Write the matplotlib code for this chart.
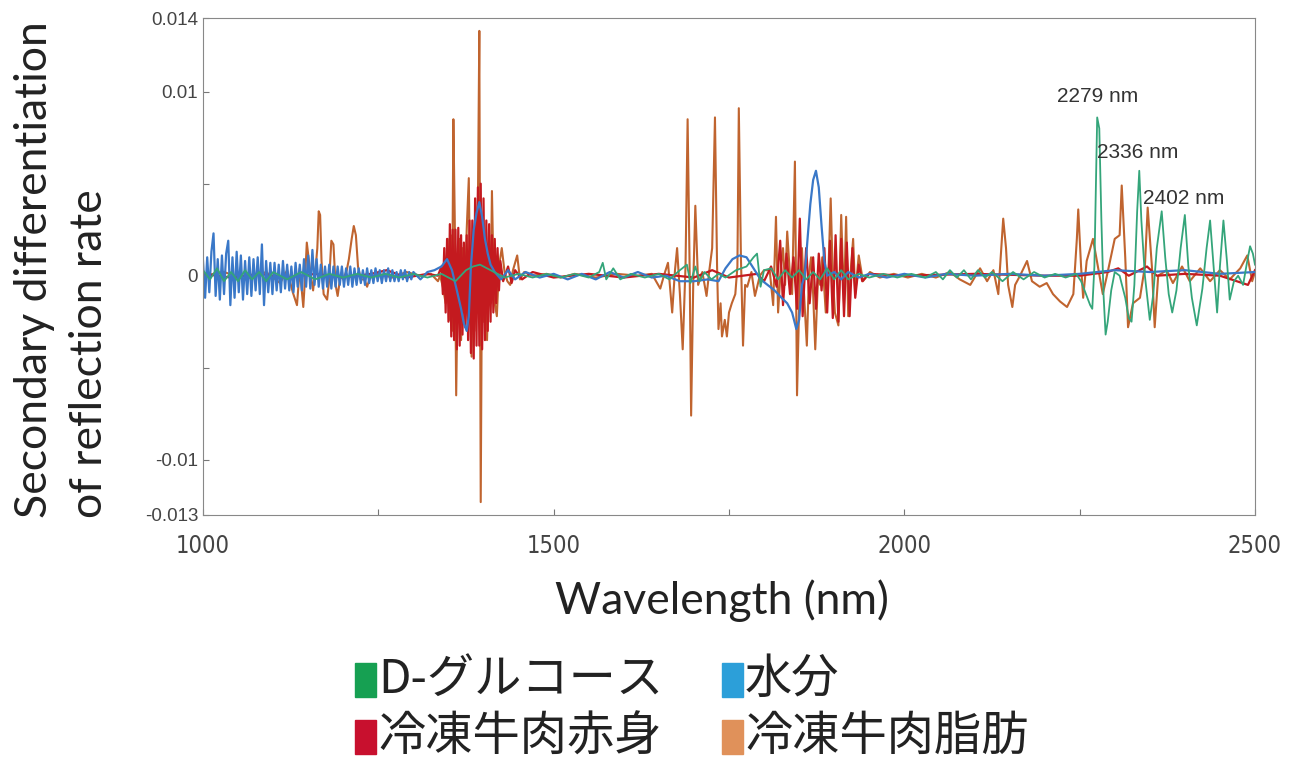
import numpy as np
import matplotlib.pyplot as plt
from matplotlib.patches import Rectangle

# second derivative spectra, values in units of 1e-3
fat_wl = [1000, 1030, 1060, 1090, 1110, 1120, 1128, 1134, 1138, 1143, 1146, 1148, 1152, 1157, 1161, 1163,
          1165, 1167, 1169, 1172, 1177, 1180, 1183, 1186, 1189, 1192, 1196, 1200, 1205, 1208, 1212, 1215,
          1218, 1221, 1225, 1230, 1234, 1238, 1250, 1270, 1290, 1310, 1325, 1335,
          1338, 1342, 1346, 1349, 1351, 1353, 1355, 1357, 1359, 1361, 1363, 1366, 1368, 1370, 1373, 1376,
          1379, 1381, 1383, 1385, 1387, 1389, 1392, 1394, 1396, 1398, 1400, 1402, 1405, 1408, 1410, 1412,
          1414, 1416, 1419, 1422, 1426, 1430, 1434, 1438, 1442, 1448, 1452, 1458,
          1470, 1490, 1510, 1530, 1560, 1590, 1620, 1640,
          1652, 1658, 1663, 1669, 1673, 1676, 1680, 1684, 1688, 1691, 1694, 1696, 1699, 1702, 1706, 1712,
          1718, 1722, 1726, 1730, 1733, 1735, 1738, 1740, 1744, 1747, 1750, 1754, 1759, 1762, 1764, 1767,
          1770, 1773, 1776, 1782, 1787, 1794, 1800, 1808, 1813, 1817, 1820, 1824, 1827, 1830, 1833, 1837,
          1840, 1844, 1847, 1851, 1854, 1857, 1861, 1864, 1867, 1870, 1873, 1877, 1880, 1883, 1888, 1892,
          1895, 1898, 1901, 1906, 1910, 1914, 1917, 1920, 1924, 1927, 1930, 1935, 1941, 1951, 1965, 1985,
          2005, 2025, 2045,
          2065, 2079, 2094, 2108, 2118, 2127, 2134, 2141, 2145, 2148, 2154, 2158, 2165, 2175, 2182, 2193,
          2203, 2212, 2222, 2232, 2241, 2246, 2248, 2252, 2255, 2260, 2269, 2276, 2283, 2290, 2300, 2307,
          2310, 2315, 2319, 2326, 2336, 2343, 2347, 2353, 2357, 2362, 2374, 2383, 2396, 2407, 2422, 2436,
          2450, 2464, 2479, 2489, 2496, 2500]
fat_val = [0.0, 0.2, -0.2, 0.2, -0.4, 0.3, -0.9, -1.6, 0.4, -1.7, 0.2, 1.8, 0.5, -0.8, 0.6, 1.5,
           3.5, 3.3, 0.8, -1.0, -1.3, -0.2, 1.9, 1.7, -0.5, -1.1, 0.0, -0.2, 0.3, 0.9, 2.0, 2.7,
           2.2, 0.5, -0.2, -0.2, -0.6, -0.1, 0.1, -0.1, 0.2, 0.0, 0.1, -0.3,
           0.0, -0.6, -1.5, 2.0, -2.4, 2.2, -3.0, 8.5, 3.0, -6.5, -1.0, 2.0, -3.5, 1.5, -2.0, 2.5,
           5.3, -1.0, -4.4, 1.5, -3.0, 2.5, 4.0, 13.3, -12.3, 2.0, -2.5, 1.5, -3.5, 1.0, -1.5, 4.6,
           0.5, -1.5, -2.2, 0.5, 1.5, 0.2, -0.3, -0.5, 0.3, 1.1, -0.2, 0.2,
           0.0, 0.1, -0.1, 0.1, -0.1, 0.1, 0.0, 0.1,
           -0.7, 0.1, 0.7, -2.0, 0.3, 1.5, -1.0, -4.0, 0.5, 8.5, 0.0, -7.6, -0.5, 3.8, -0.5, 0.2,
           -1.1, 0.3, 1.5, 8.6, 0.5, -2.9, -1.5, -3.3, -2.4, -3.3, -2.0, -1.5, -1.0, 0.5, 9.1, 1.0,
           -3.8, -0.5, -0.6, 0.2, -1.1, 0.0, 0.3, 0.3, -1.6, 3.2, -2.0, 0.5, 1.5, -0.5, 2.4, 0.0,
           -1.0, 6.2, -6.5, 0.0, 1.5, -1.0, -3.8, 0.0, 1.0, -1.0, -4.0, 0.0, -0.5, 1.0, -2.0, 0.5,
           4.2, 0.0, -2.0, -2.7, 3.3, -1.5, 3.2, -2.2, 0.5, 2.0, -1.0, 1.1, -0.3, 0.2, -0.1, 0.1,
           -0.1, 0.1, -0.1,
           0.2, -0.2, -0.5, 0.4, -0.3, 0.3, -1.0, 3.1, 1.5, -0.5, -1.7, -0.5, 0.0, 0.8, -0.3, -0.6,
           -0.4, -1.0, -1.4, -1.7, -1.0, 2.0, 3.6, 0.5, -1.2, 0.8, 2.0, 0.5, -1.0, 0.2, 2.0, 2.2,
           4.9, 1.0, -2.8, -1.5, -1.2, 0.5, 3.7, 0.5, -2.8, 0.0, 0.3, -0.4, 0.5, -0.3, 0.4, -0.3,
           0.3, -0.2, 0.4, 1.1, -0.3, 0.2]

lean_wl = [1000, 1040, 1080, 1120, 1160, 1200, 1240, 1262, 1290, 1320, 1335,
           1340, 1342, 1344, 1346, 1348, 1350, 1352, 1354, 1356, 1358, 1360, 1362, 1364, 1366, 1368, 1370,
           1372, 1374, 1376, 1378, 1380, 1382, 1384, 1386, 1388, 1390, 1392, 1394, 1396, 1398, 1400, 1402,
           1404, 1406, 1408, 1410, 1412, 1414, 1416, 1418, 1420, 1422, 1424, 1428, 1435, 1440,
           1445, 1455, 1470, 1500, 1550, 1600, 1650, 1700, 1726, 1750, 1790,
           1800, 1810, 1818, 1823, 1827, 1832, 1837, 1842, 1847, 1851, 1855, 1860, 1865, 1870, 1874, 1878,
           1882, 1886, 1890, 1894, 1898, 1902, 1906, 1910, 1914, 1918, 1922, 1926, 1930, 1935, 1940, 1950,
           2000, 2100, 2200, 2250, 2290, 2305, 2320, 2346, 2360, 2400, 2450, 2490, 2500]
lean_val = [0.1, -0.1, 0.1, -0.1, 0.1, -0.1, 0.1, 0.3, -0.1, 0.1, 0.0,
            0.5, -1.0, 1.5, -2.0, 2.0, -2.5, 2.8, -3.3, 2.5, -3.5, 2.5, -4.0, 2.6, -3.8, 2.2, -3.2,
            1.8, -2.8, 2.2, -3.5, 3.0, -4.2, 3.0, -4.5, 4.2, -3.8, 4.8, -3.8, 5.0, -4.0, 4.2, -3.5,
            3.0, -3.0, 2.8, -2.5, 2.2, -2.0, 2.0, -1.5, 1.5, -0.8, 0.8, -0.3, 0.5, -0.4,
            0.3, -0.2, 0.2, -0.1, 0.1, -0.1, 0.1, -0.1, 0.3, -0.1, 0.1,
            -0.3, 0.5, -0.6, 1.9, -1.6, 1.2, -1.0, 1.0, -1.8, 3.1, -2.2, 1.5, -1.5, 1.0, -1.8, 1.2,
            -0.8, 1.5, -2.0, 1.9, -2.3, 2.2, -2.5, 2.0, -2.2, 1.8, -2.2, 1.5, -1.2, 0.6, -0.3, 0.1,
            0.0, 0.1, 0.0, 0.0, 0.2, 0.4, 0.0, 0.5, 0.0, 0.1, 0.0, -0.5, 0.3]

water_wl = [1000, 1003, 1006, 1009, 1012, 1015, 1018, 1021, 1024, 1027, 1030, 1033, 1036, 1039, 1042,
            1045, 1048, 1051, 1054, 1057, 1060, 1063, 1066, 1069, 1072, 1075, 1078, 1081, 1084, 1087,
            1090, 1093, 1096, 1099, 1102, 1105, 1108, 1111, 1114, 1117, 1120, 1123, 1126, 1129, 1132,
            1135, 1138, 1141, 1144, 1147, 1150, 1153, 1156, 1159, 1162, 1165, 1168, 1171, 1174, 1177,
            1180, 1183, 1186, 1189, 1192, 1195, 1198, 1201, 1204, 1207, 1210, 1213, 1216, 1219, 1222,
            1225, 1228, 1231, 1234, 1237, 1240, 1243, 1246, 1249, 1252, 1255, 1258, 1261, 1264, 1267,
            1270, 1273, 1276, 1279, 1282, 1285, 1288, 1291, 1294, 1297, 1300, 1310, 1320, 1330,
            1340, 1348, 1355, 1362, 1368, 1372, 1376, 1379, 1382, 1386, 1390, 1394, 1398, 1402, 1406,
            1410, 1416, 1425, 1435, 1445, 1460, 1480, 1500, 1520, 1540, 1560, 1580, 1600, 1620, 1640,
            1660, 1680, 1700, 1720, 1735, 1745, 1755, 1765, 1775, 1785, 1795, 1805, 1815, 1825, 1833,
            1840, 1846, 1850, 1854, 1858, 1862, 1866, 1870, 1874, 1878, 1882, 1886, 1890, 1900, 1910,
            1920, 1935, 1950, 1975, 2000, 2030, 2060, 2100, 2150, 2200, 2250, 2300, 2350, 2400, 2450, 2500]
water_val = [0.8, -1.2, 1.0, -0.9, 1.3, 2.3, -1.1, 0.9, -1.3, 1.1, -1.0, 1.2, 1.9, -1.6, 1.0,
             -1.2, 1.3, -0.9, 1.1, -1.3, 0.8, -1.0, 1.0, -1.1, 0.9, -0.8, 1.0, -1.0, 1.7, -1.6,
             0.8, -0.9, 0.7, -1.0, 0.7, -0.8, 0.6, -0.9, 0.8, -0.7, 0.6, -0.8, 0.5, -0.9, 0.7,
             -0.6, 0.6, -0.8, 0.9, -0.6, 1.1, -0.7, 1.4, -0.5, 0.9, -0.6, 0.6, -0.7, 0.5, -0.6,
             0.6, -0.7, 0.5, -0.6, 0.5, -0.5, 0.5, -0.6, 0.4, -0.5, 0.5, -0.6, 0.4, -0.5, 0.4,
             -0.4, 0.3, -0.5, 0.4, -0.4, 0.3, -0.4, 0.4, -0.3, 0.3, -0.4, 0.3, -0.3, 0.4, -0.3,
             0.3, -0.3, 0.2, -0.3, 0.3, -0.2, 0.3, -0.3, 0.2, -0.2, 0.2, -0.2, 0.2, 0.3,
             0.5, 0.9, 0.3, -0.8, -1.8, -2.6, -3.0, -2.2, 0.5, 2.5, 3.4, 4.0, 3.2, 2.0, 1.2,
             0.6, 0.2, -0.2, 0.3, -0.2, 0.2, -0.1, 0.1, -0.2, 0.1, -0.2, 0.2, -0.1, 0.2, -0.1,
             0.0, -0.3, -0.3, -0.2, -0.3, 0.4, 0.9, 1.1, 1.0, 0.4, -0.2, -0.5, -0.8, -1.2, -1.5,
             -2.0, -2.9, -2.4, -0.5, 0.0, 2.0, 3.9, 5.2, 5.7, 4.8, 2.7, 0.8, 0.0, 0.2, -0.2,
             0.2, -0.1, 0.1, -0.1, 0.1, -0.1, 0.1, 0.0, 0.1, 0.0, 0.1, 0.3, 0.2, 0.3, 0.1, 0.2]

glucose_wl = [1000, 1010, 1020, 1030, 1040, 1050, 1060, 1070, 1080, 1090, 1100, 1120, 1140, 1160, 1180,
              1200, 1220, 1240, 1260, 1280, 1300, 1320, 1340, 1360, 1375, 1385, 1395, 1405, 1415, 1430,
              1450, 1470, 1490, 1510, 1530, 1550, 1565, 1570, 1575, 1585, 1595, 1610, 1630, 1650, 1665,
              1680, 1690, 1695, 1702, 1708, 1715, 1725, 1735, 1745, 1760, 1775, 1785, 1790, 1795, 1800,
              1810, 1820, 1830, 1840, 1850, 1860, 1870, 1880, 1890, 1900, 1910, 1920, 1935, 1950, 1970,
              1990, 2010, 2030, 2045, 2055, 2065, 2075, 2085, 2095, 2105, 2115, 2125, 2140, 2155, 2170,
              2185, 2200, 2215, 2230, 2245, 2252, 2260, 2265, 2268, 2271, 2275, 2278, 2281, 2284, 2287,
              2290, 2295, 2300, 2307, 2315, 2320, 2324, 2328, 2332, 2335, 2338, 2343, 2350, 2355, 2360,
              2367, 2372, 2377, 2382, 2388, 2394, 2400, 2405, 2410, 2417, 2425, 2431, 2436, 2441, 2446,
              2450, 2455, 2460, 2464, 2470, 2476, 2483, 2489, 2493, 2497, 2500]
glucose_val = [0.3, -0.2, 0.4, -0.3, 0.2, -0.3, 0.3, -0.2, 0.2, -0.3, 0.2, -0.2, 0.2, -0.2, 0.1,
               -0.1, 0.1, -0.1, 0.1, -0.1, 0.1, -0.1, 0.1, -0.3, 0.3, 0.5, 0.6, 0.4, 0.2, -0.1,
               0.1, -0.1, 0.1, -0.1, 0.1, -0.1, 0.2, 0.7, -0.2, 0.4, -0.2, 0.1, -0.1, 0.1, -0.2,
               0.3, 0.6, -0.4, 0.5, -0.3, 0.2, -0.2, 0.1, -0.1, 0.3, 0.5, 1.0, 1.2, -0.6, 0.3,
               0.4, -0.2, 0.3, -0.1, 0.3, -0.2, 0.2, -0.2, 0.4, -0.2, 0.3, -0.2, 0.1, -0.1, 0.1,
               -0.1, 0.1, -0.1, 0.2, -0.2, 0.3, -0.1, 0.3, -0.2, 0.3, -0.1, 0.2, -0.3, 0.2, -0.2,
               0.2, -0.1, 0.1, -0.1, 0.1, -0.3, -1.1, -1.6, -1.8, 0.5, 8.6, 8.0, 3.0, -1.0, -3.2,
               -2.5, -0.8, 0.2, 0.0, -1.2, -2.3, -2.5, -0.5, 3.5, 5.7, 3.0, 0.0, -2.4, -1.0, 1.5,
               3.5, 1.0, -1.0, -2.0, -0.8, 1.5, 3.3, 0.5, -1.2, -2.7, -0.7, 1.5, 3.0, 0.5, -2.0,
               0.5, 3.0, 0.8, -1.3, -0.3, 0.0, -0.5, 0.8, 1.6, 1.2, 0.6]

peak_labels = ['2279 nm', '2336 nm', '2402 nm']
peak_x = [2218, 2275, 2340]
peak_y = [0.0092, 0.0062, 0.0037]

legend_names = ['D-グルコース', '水分', '冷凍牛肉赤身', '冷凍牛肉脂肪']
legend_colors = ['#16a052', '#2c9fd9', '#c8102e', '#e0915a']

fig = plt.figure(figsize=(12.93, 7.60), dpi=100)
ax = fig.add_axes([0.157, 0.3224, 0.8136, 0.6539])

ax.plot(fat_wl, np.array(fat_val) * 1e-3, color='#c0642f', lw=1.5)
ax.plot(lean_wl, np.array(lean_val) * 1e-3, color='#c41a1f', lw=1.6)
ax.plot(water_wl, np.array(water_val) * 1e-3, color='#3a78c8', lw=1.6)
ax.plot(glucose_wl, np.array(glucose_val) * 1e-3, color='#34a57a', lw=1.3)

for lab, x, y in zip(peak_labels, peak_x, peak_y):
    ax.text(x, y, lab, fontsize=15, color='#333333', family='Liberation Sans', ha='left', va='bottom')

ax.set_xlim(1000, 2500)
ax.set_ylim(-0.013, 0.014)
ax.set_xticks([1000, 1250, 1500, 1750, 2000, 2250, 2500])
ax.set_xticklabels(['1000', '', '1500', '', '2000', '', '2500'])
ax.set_yticks([-0.013, -0.01, -0.005, 0, 0.005, 0.01, 0.014])
ax.set_yticklabels(['-0.013', '-0.01', '', '0', '', '0.01', '0.014'])
ax.tick_params(direction='in', length=4, color='#777777', labelcolor='#444444')
for lab in ax.get_xticklabels():
    lab.set_family('DejaVu Sans')
    lab.set_fontstretch('condensed')
    lab.set_fontsize(17)
for lab in ax.get_yticklabels():
    lab.set_family('Liberation Sans')
    lab.set_fontsize(13.5)
ax.tick_params(axis='x', pad=14)
for s in ax.spines.values():
    s.set_color('#888888')

fig.text(0.048, 0.318, 'Secondary differentiation\nof reflection rate', rotation=90, ha='center', va='bottom',
         family='Lato', fontsize=32, color='#222222', linespacing=1.45, multialignment='left')
fig.text(0.558, 0.21, 'Wavelength (nm)', ha='center', va='center', family='Lato', fontsize=32, color='#222222')

# legend boxes under the chart
leg_x = [355, 722, 355, 722]
leg_y = [680, 680, 737, 737]
for name, c, x, y in zip(legend_names, legend_colors, leg_x, leg_y):
    fig.patches.append(Rectangle((x / 1293, 1 - (y + 17) / 760), 21 / 1293, 34 / 760,
                                 transform=fig.transFigure, color=c))
    fig.text((x + 23) / 1293, 1 - y / 760, name, ha='left', va='center',
             family=['Noto Sans CJK JP', 'DejaVu Sans'], fontsize=34, color='#222222')

fig.savefig('out.png', dpi=100)
